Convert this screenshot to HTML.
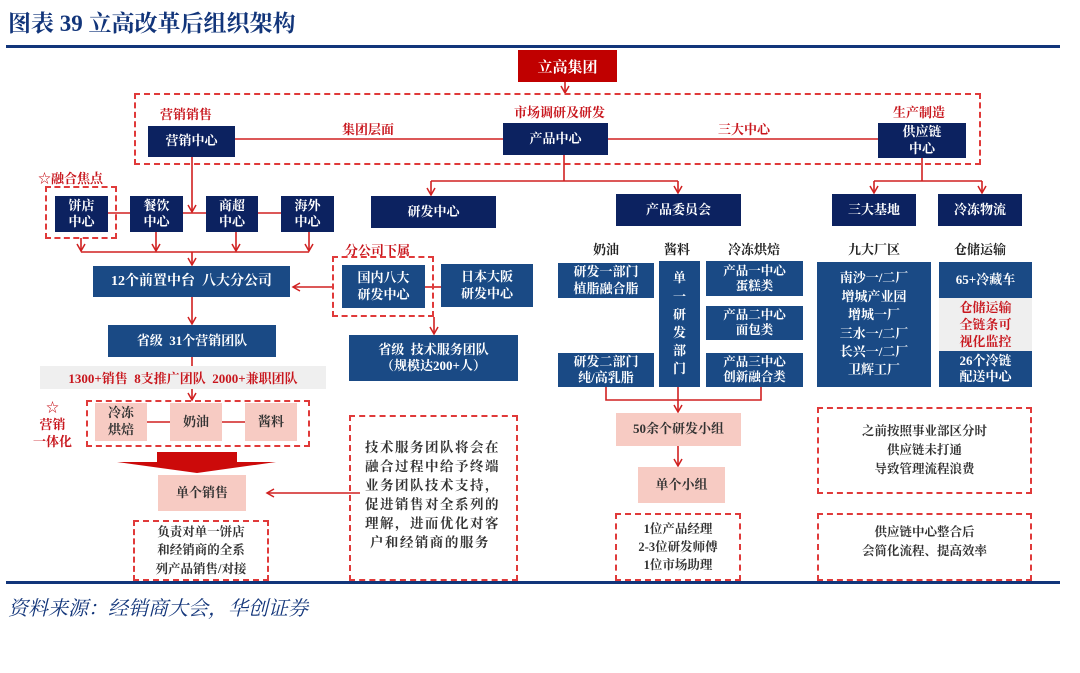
<!DOCTYPE html>
<html><head><meta charset="utf-8"><style>
body{margin:0;width:1080px;height:673px;background:#fff;position:relative;overflow:hidden;font-family:"Liberation Serif","Noto Serif CJK SC",serif;}
.a{position:absolute;box-sizing:border-box;}
.n{background:#0c2260;color:#fff;display:flex;align-items:center;justify-content:center;text-align:center;font-size:13px;font-weight:bold;line-height:1.25;}
.b{background:#1a4a85;color:#fff;display:flex;align-items:center;justify-content:center;text-align:center;font-size:13px;font-weight:bold;line-height:1.25;}
.p{background:#f7cbc3;color:#333;display:flex;align-items:center;justify-content:center;text-align:center;font-size:13px;font-weight:bold;line-height:1.3;}
.d{border:2px dashed #e03a3a;}
.r{color:#c8161d;font-size:13px;font-weight:bold;white-space:nowrap;}
.k{color:#222;font-size:13px;font-weight:bold;white-space:nowrap;}
.t{color:#333;font-size:12.5px;font-weight:bold;text-align:center;line-height:1.5;display:flex;align-items:center;justify-content:center;}
</style></head><body>
<div class="a" style="left:8px;top:5px;font-size:23px;font-weight:bold;color:#12357a;white-space:nowrap;">图表 39 立高改革后组织架构</div>
<div class="a" style="left:6px;top:45px;width:1054px;height:3px;background:#12357a"></div>
<div class="a" style="left:6px;top:581px;width:1054px;height:3px;background:#12357a"></div>
<div class="a" style="left:8px;top:592px;font-size:20px;font-style:italic;color:#12357a;white-space:nowrap;">资料来源：经销商大会，华创证券</div>

<svg class="a" style="left:0;top:0" width="1080" height="673">
<defs><marker id="m" markerWidth="10" markerHeight="10" refX="8" refY="5" orient="auto" markerUnits="userSpaceOnUse"><path d="M1,1 L8,5 L1,9" fill="none" stroke="#d02020" stroke-width="1.5"/></marker></defs>
<g stroke="#d02020" stroke-width="1.6" fill="none">
<line x1="565" y1="82" x2="565" y2="93" marker-end="url(#m)"/>
<line x1="235" y1="139" x2="503" y2="139"/>
<line x1="608" y1="139" x2="878" y2="139"/>
<line x1="564" y1="155" x2="564" y2="181"/>
<line x1="431" y1="181" x2="678" y2="181"/>
<line x1="431" y1="181" x2="431" y2="195" marker-end="url(#m)"/>
<line x1="678" y1="181" x2="678" y2="193" marker-end="url(#m)"/>
<line x1="922" y1="158" x2="922" y2="181"/>
<line x1="874" y1="181" x2="982" y2="181"/>
<line x1="874" y1="181" x2="874" y2="193" marker-end="url(#m)"/>
<line x1="982" y1="181" x2="982" y2="193" marker-end="url(#m)"/>
<line x1="192" y1="157" x2="192" y2="212" marker-end="url(#m)"/>
<line x1="108" y1="213" x2="281" y2="213"/>
<line x1="81" y1="238" x2="81" y2="251" marker-end="url(#m)"/>
<line x1="156" y1="232" x2="156" y2="251" marker-end="url(#m)"/>
<line x1="236" y1="232" x2="236" y2="251" marker-end="url(#m)"/>
<line x1="309" y1="232" x2="309" y2="251" marker-end="url(#m)"/>
<line x1="81" y1="252" x2="309" y2="252"/>
<line x1="192" y1="252" x2="192" y2="265" marker-end="url(#m)"/>
<line x1="192" y1="297" x2="192" y2="324" marker-end="url(#m)"/>
<line x1="192" y1="357" x2="192" y2="366"/>
<line x1="192" y1="389" x2="192" y2="400" marker-end="url(#m)"/>
<line x1="147" y1="422" x2="170" y2="422"/>
<line x1="222" y1="422" x2="245" y2="422"/>
<line x1="332" y1="287" x2="293" y2="287" marker-end="url(#m)"/>
<line x1="425" y1="287" x2="441" y2="287"/>
<line x1="434" y1="317" x2="434" y2="334" marker-end="url(#m)"/>
<line x1="360" y1="493" x2="267" y2="493" marker-end="url(#m)"/>
<polyline points="606,387 606,400 761,400 761,387"/>
<line x1="678" y1="387" x2="678" y2="412" marker-end="url(#m)"/>
<line x1="678" y1="446" x2="678" y2="466" marker-end="url(#m)"/>
</g>
<path d="M157,452 L237,452 L237,462 L276,462 L197,473 L117,462 L157,462 Z" fill="#cc0a0a"/>
</svg>

<div class="a" style="left:518px;top:50px;width:99px;height:32px;background:#c00000;color:#fff;font-size:15px;font-weight:bold;display:flex;align-items:center;justify-content:center">立高集团</div>
<div class="a d" style="left:134px;top:93px;width:847px;height:72px"></div>
<div class="a r" style="left:160px;top:104px">营销销售</div>
<div class="a r" style="left:342px;top:119px">集团层面</div>
<div class="a r" style="left:514px;top:102px">市场调研及研发</div>
<div class="a r" style="left:718px;top:119px">三大中心</div>
<div class="a r" style="left:893px;top:102px">生产制造</div>
<div class="a n" style="left:148px;top:126px;width:87px;height:31px">营销中心</div>
<div class="a n" style="left:503px;top:123px;width:105px;height:32px">产品中心</div>
<div class="a n" style="left:878px;top:123px;width:88px;height:35px">供应链<br>中心</div>

<div class="a r" style="left:38px;top:168px">☆融合焦点</div>
<div class="a d" style="left:45px;top:186px;width:72px;height:53px"></div>
<div class="a n" style="left:55px;top:196px;width:53px;height:36px">饼店<br>中心</div>
<div class="a n" style="left:130px;top:196px;width:53px;height:36px">餐饮<br>中心</div>
<div class="a n" style="left:206px;top:196px;width:52px;height:36px">商超<br>中心</div>
<div class="a n" style="left:281px;top:196px;width:53px;height:36px">海外<br>中心</div>
<div class="a n" style="left:371px;top:196px;width:125px;height:32px">研发中心</div>
<div class="a n" style="left:616px;top:194px;width:125px;height:32px">产品委员会</div>
<div class="a n" style="left:832px;top:194px;width:84px;height:32px">三大基地</div>
<div class="a n" style="left:938px;top:194px;width:84px;height:32px">冷冻物流</div>

<div class="a b" style="left:93px;top:266px;width:197px;height:31px;font-size:14px">12个前置中台&nbsp;&nbsp;八大分公司</div>
<div class="a b" style="left:108px;top:325px;width:168px;height:32px">省级&nbsp;&nbsp;31个营销团队</div>
<div class="a" style="left:40px;top:366px;width:286px;height:23px;background:#efefef;color:#c8161d;font-size:13px;font-weight:bold;display:flex;align-items:center;justify-content:center;white-space:nowrap">1300+销售&nbsp;&nbsp;8支推广团队&nbsp;&nbsp;2000+兼职团队</div>
<div class="a r" style="left:30px;top:400px;width:45px;text-align:center;line-height:1.3">☆<br>营销<br>一体化</div>
<div class="a d" style="left:86px;top:400px;width:224px;height:47px"></div>
<div class="a p" style="left:95px;top:403px;width:52px;height:38px">冷冻<br>烘焙</div>
<div class="a p" style="left:170px;top:403px;width:52px;height:38px">奶油</div>
<div class="a p" style="left:245px;top:403px;width:52px;height:38px">酱料</div>
<div class="a p" style="left:158px;top:475px;width:88px;height:36px">单个销售</div>
<div class="a d t" style="left:133px;top:520px;width:136px;height:61px;line-height:1.45">负责对单一饼店<br>和经销商的全系<br>列产品销售/对接</div>

<div class="a r" style="left:345px;top:240px">分公司下属</div>
<div class="a d" style="left:332px;top:256px;width:102px;height:61px"></div>
<div class="a b" style="left:342px;top:265px;width:83px;height:43px">国内八大<br>研发中心</div>
<div class="a b" style="left:441px;top:264px;width:92px;height:43px">日本大阪<br>研发中心</div>
<div class="a b" style="left:349px;top:335px;width:169px;height:46px">省级&nbsp;&nbsp;技术服务团队<br>（规模达200+人）</div>
<div class="a d" style="left:349px;top:415px;width:169px;height:166px"></div>
<div class="a" style="left:365px;top:438px;width:150px;color:#333;font-size:13.5px;font-weight:bold;line-height:19px;letter-spacing:1.5px;white-space:nowrap">技术服务团队将会在<br>融合过程中给予终端<br>业务团队技术支持，<br>促进销售对全系列的<br>理解，进而优化对客<br>&nbsp;户和经销商的服务</div>

<div class="a k" style="left:593px;top:239px">奶油</div>
<div class="a k" style="left:664px;top:239px">酱料</div>
<div class="a k" style="left:728px;top:239px">冷冻烘焙</div>
<div class="a k" style="left:848px;top:239px">九大厂区</div>
<div class="a k" style="left:954px;top:239px">仓储运输</div>
<div class="a b" style="left:558px;top:263px;width:96px;height:35px">研发一部门<br>植脂融合脂</div>
<div class="a b" style="left:558px;top:353px;width:96px;height:34px">研发二部门<br>纯/高乳脂</div>
<div class="a b" style="left:659px;top:261px;width:41px;height:126px;line-height:1.4">单<br>一<br>研<br>发<br>部<br>门</div>
<div class="a b" style="left:706px;top:261px;width:97px;height:35px;font-size:12.5px;line-height:1.2">产品一中心<br>蛋糕类</div>
<div class="a b" style="left:706px;top:306px;width:97px;height:34px;font-size:12.5px;line-height:1.2">产品二中心<br>面包类</div>
<div class="a b" style="left:706px;top:353px;width:97px;height:34px;font-size:12.5px;line-height:1.2">产品三中心<br>创新融合类</div>
<div class="a b" style="left:817px;top:262px;width:114px;height:125px;line-height:1.42">南沙一/二厂<br>增城产业园<br>增城一厂<br>三水一/二厂<br>长兴一/二厂<br>卫辉工厂</div>
<div class="a b" style="left:939px;top:262px;width:93px;height:36px">65+冷藏车</div>
<div class="a" style="left:939px;top:298px;width:93px;height:53px;background:#efefef;color:#c8161d;font-size:13px;font-weight:bold;text-align:center;line-height:17px;padding-top:1px">仓储运输<br>全链条可<br>视化监控</div>
<div class="a b" style="left:939px;top:351px;width:93px;height:36px">26个冷链<br>配送中心</div>
<div class="a p" style="left:616px;top:413px;width:125px;height:33px">50余个研发小组</div>
<div class="a p" style="left:638px;top:467px;width:87px;height:36px">单个小组</div>
<div class="a d t" style="left:615px;top:513px;width:126px;height:68px;line-height:1.45">1位产品经理<br>2-3位研发师傅<br>1位市场助理</div>
<div class="a d t" style="left:817px;top:407px;width:215px;height:87px">之前按照事业部区分时<br>供应链未打通<br>导致管理流程浪费</div>
<div class="a d t" style="left:817px;top:513px;width:215px;height:68px;align-items:flex-start;padding-top:8px">供应链中心整合后<br>会简化流程、提高效率</div>
</body></html>
